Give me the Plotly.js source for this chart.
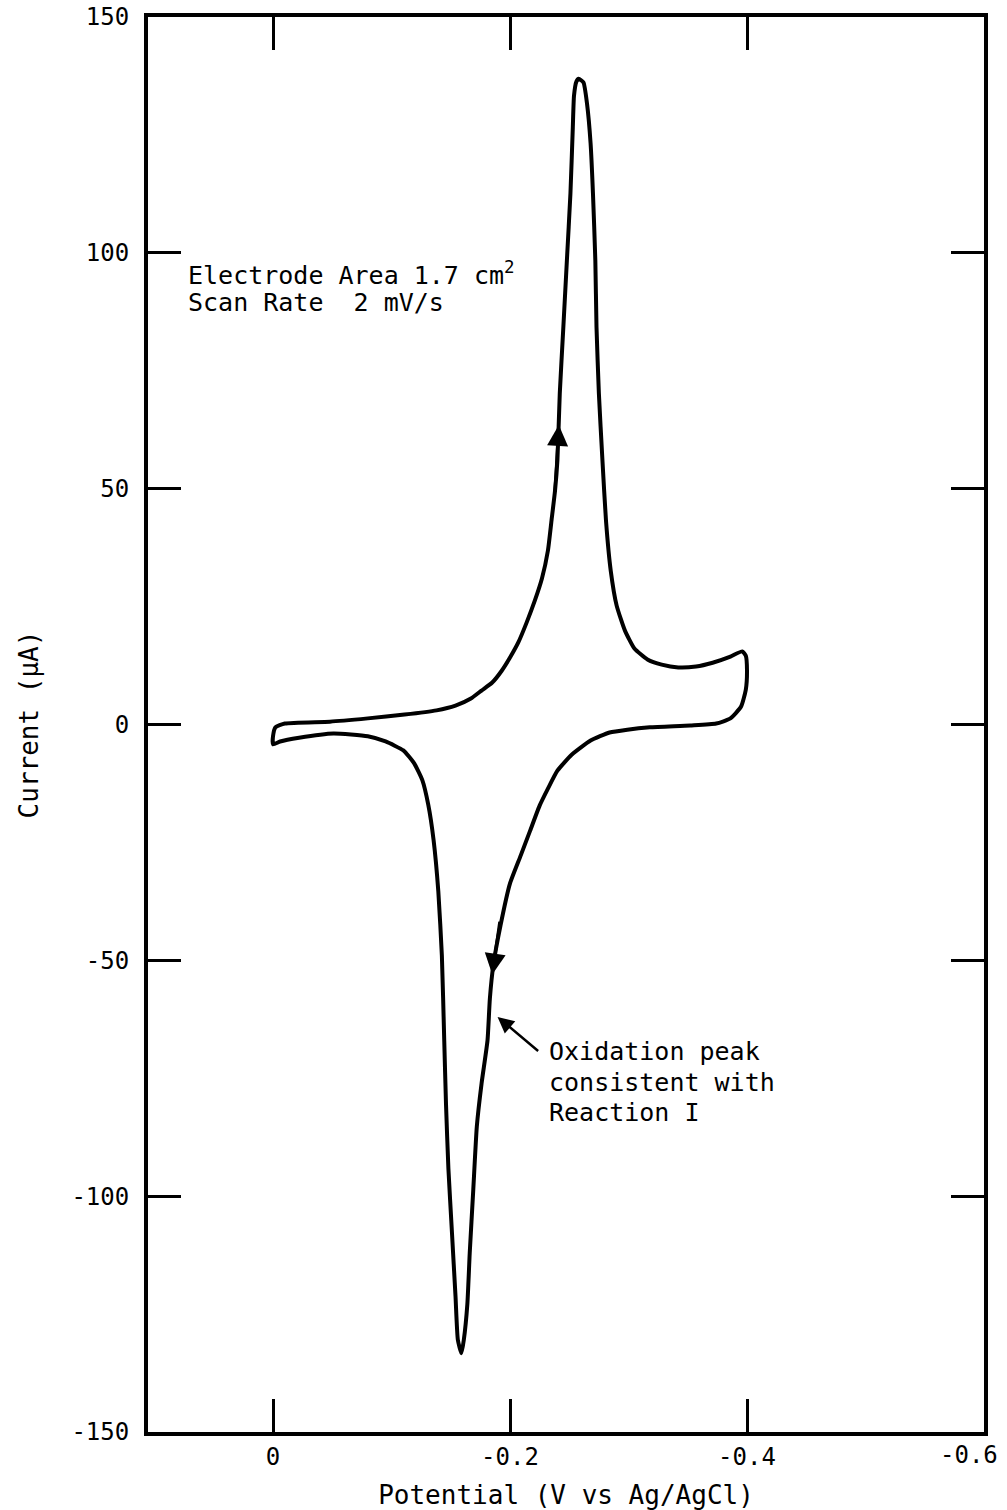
<!DOCTYPE html>
<html>
<head>
<meta charset="utf-8">
<script src="https://cdn.plot.ly/plotly-3.0.1.min.js"></script>
<style>
  html, body { margin: 0; padding: 0; background: #fff; }
  #chart { width: 1007px; height: 1510px; }
</style>
</head>
<body>
<div id="chart"></div>
<script>
// Forward scan (0 V -> -0.4 V), potential in V, current in microamps
var forwardV = [0.000, 0.000, -0.002, -0.010, -0.048, -0.080, -0.111, -0.138, -0.154, -0.167, -0.176, -0.185, -0.193, -0.200, -0.207, -0.214, -0.221, -0.227, -0.232, -0.235, -0.238, -0.240, -0.242, -0.245, -0.248, -0.251, -0.253, -0.254, -0.256, -0.258, -0.262, -0.265, -0.268, -0.270, -0.272, -0.273, -0.275, -0.278, -0.281, -0.285, -0.290, -0.297, -0.305, -0.316, -0.328, -0.342, -0.357, -0.371, -0.386, -0.396, -0.399, -0.400];
var forwardI = [-4.2, -2.5, -0.6, 0.2, 0.6, 1.3, 2.1, 3.0, 4.0, 5.5, 7.2, 8.9, 11.4, 14.2, 17.4, 21.6, 26.3, 31.0, 36.9, 43.2, 49.6, 56.0, 70.2, 84.2, 98.4, 112.6, 126.6, 133.3, 136.3, 136.9, 136.1, 131.6, 123.2, 112.6, 98.4, 84.2, 70.2, 56.0, 43.2, 32.6, 25.2, 19.9, 16.1, 13.8, 12.7, 12.1, 12.3, 13.1, 14.4, 15.5, 14.6, 11.4];
// Reverse scan (-0.4 V -> 0 V)
var reverseV = [-0.399, -0.395, -0.386, -0.374, -0.352, -0.318, -0.299, -0.284, -0.268, -0.252, -0.240, -0.232, -0.225, -0.217, -0.209, -0.200, -0.192, -0.186, -0.183, -0.181, -0.176, -0.172, -0.169, -0.166, -0.164, -0.161, -0.159, -0.156, -0.154, -0.151, -0.148, -0.146, -0.1445, -0.1425, -0.1395, -0.1355, -0.131, -0.126, -0.119, -0.110, -0.095, -0.080, -0.051, -0.022, -0.006, 0.000];
var reverseI = [7.4, 3.8, 1.3, 0.2, -0.2, -0.6, -1.1, -1.7, -3.4, -6.4, -9.8, -13.6, -17.2, -22.5, -27.8, -33.7, -42.6, -50.9, -58.1, -67.0, -76.1, -85.2, -98.6, -112.1, -122.9, -130.5, -133.3, -130.5, -121.2, -107.7, -94.1, -80.6, -67.0, -49.0, -35.4, -24.5, -17.0, -11.8, -8.2, -5.5, -3.6, -2.5, -1.9, -2.8, -3.6, -4.2];

var xTickVals = [0, -0.2, -0.4, -0.6];
var xTickText = ['0', '-0.2', '-0.4', '-0.6'];
var yTickVals = [-150, -100, -50, 0, 50, 100, 150];
var yTickText = ['-150', '-100', '-50', '0', '50', '100', '150'];

var infoLines = ['Electrode Area 1.7 cm<sup>2</sup>', 'Scan Rate  2 mV/s'];
var noteLines = ['Oxidation peak', 'consistent with', 'Reaction I'];

var FONT = '"DejaVu Sans Mono", "Liberation Mono", monospace';

var trace = {
  x: forwardV.concat(reverseV),
  y: forwardI.concat(reverseI),
  mode: 'lines',
  type: 'scatter',
  line: { color: '#000', width: 4, shape: 'spline', smoothing: 0.5 },
  hoverinfo: 'skip'
};

// the last x tick sits on the right frame edge; its label is drawn as text so it is not clipped
var lastIdx = xTickText.length - 1;
var axisXTickVals = xTickVals.slice(0, lastIdx);
var axisXTickText = xTickText.slice(0, lastIdx);

var annotations = [];
annotations.push({ xref: 'paper', yref: 'paper', x: 1, y: -0.0163, xanchor: 'right', yanchor: 'middle', xshift: 16,
  text: xTickText[lastIdx], showarrow: false, font: { family: FONT, size: 24, color: '#000' } });
// info text
var infoY = [0.819, 0.7985];
infoLines.forEach(function (t, i) {
  annotations.push({ xref: 'paper', yref: 'paper', x: 0.046, y: infoY[i], xanchor: 'left', yanchor: 'middle',
    text: t, showarrow: false, font: { family: FONT, size: 25, color: '#000' } });
});
var noteY = [0.2686, 0.2470, 0.2255];
noteLines.forEach(function (t, i) {
  annotations.push({ xref: 'paper', yref: 'paper', x: 0.477, y: noteY[i], xanchor: 'left', yanchor: 'middle',
    text: t, showarrow: false, font: { family: FONT, size: 25, color: '#000' } });
});
// scan direction arrows on the curve
annotations.push({ x: -0.2412, y: 63.5, ax: -0.2378, ay: 49.0, xref: 'x', yref: 'y', axref: 'x', ayref: 'y',
  text: '', showarrow: true, arrowhead: 2, arrowsize: 1.4, arrowwidth: 3, arrowcolor: '#000', standoff: 0 });
annotations.push({ x: -0.1850, y: -53.0, ax: -0.1915, ay: -41.5, xref: 'x', yref: 'y', axref: 'x', ayref: 'y',
  text: '', showarrow: true, arrowhead: 2, arrowsize: 1.4, arrowwidth: 3, arrowcolor: '#000', standoff: 0 });
// pointer arrow for note
annotations.push({ x: -0.1895, y: -62.0, ax: -0.2250, ay: -69.5, xref: 'x', yref: 'y', axref: 'x', ayref: 'y',
  text: '', showarrow: true, arrowhead: 2, arrowsize: 1.3, arrowwidth: 2.5, arrowcolor: '#000', standoff: 0 });

var layout = {
  width: 1007, height: 1510,
  margin: { l: 148, r: 23, t: 17, b: 78 },
  paper_bgcolor: '#fff', plot_bgcolor: '#fff',
  showlegend: false,
  font: { family: FONT, color: '#000', size: 24 },
  xaxis: {
    range: [0.1055, -0.6],
    tickvals: axisXTickVals, ticktext: axisXTickText,
    ticks: 'inside', ticklen: 33, tickwidth: 3, tickcolor: '#000',
    showline: true, linewidth: 4, linecolor: '#000', mirror: 'ticks',
    showgrid: false, zeroline: false,
    tickfont: { family: FONT, size: 24, color: '#000' },
    title: { text: 'Potential (V vs Ag/AgCl)', font: { family: FONT, size: 26, color: '#000' }, standoff: 18 }
  },
  yaxis: {
    range: [-150, 150],
    tickvals: yTickVals, ticktext: yTickText,
    ticks: 'inside', ticklen: 33, tickwidth: 3, tickcolor: '#000',
    showline: true, linewidth: 4, linecolor: '#000', mirror: 'ticks',
    showgrid: false, zeroline: false,
    ticklabelstandoff: 10,
    tickfont: { family: FONT, size: 24, color: '#000' },
    title: { text: 'Current (μA)', font: { family: FONT, size: 26, color: '#000' }, standoff: 26 }
  },
  annotations: annotations
};

Plotly.newPlot('chart', [trace], layout, { staticPlot: true, displayModeBar: false });
</script>
</body>
</html>
